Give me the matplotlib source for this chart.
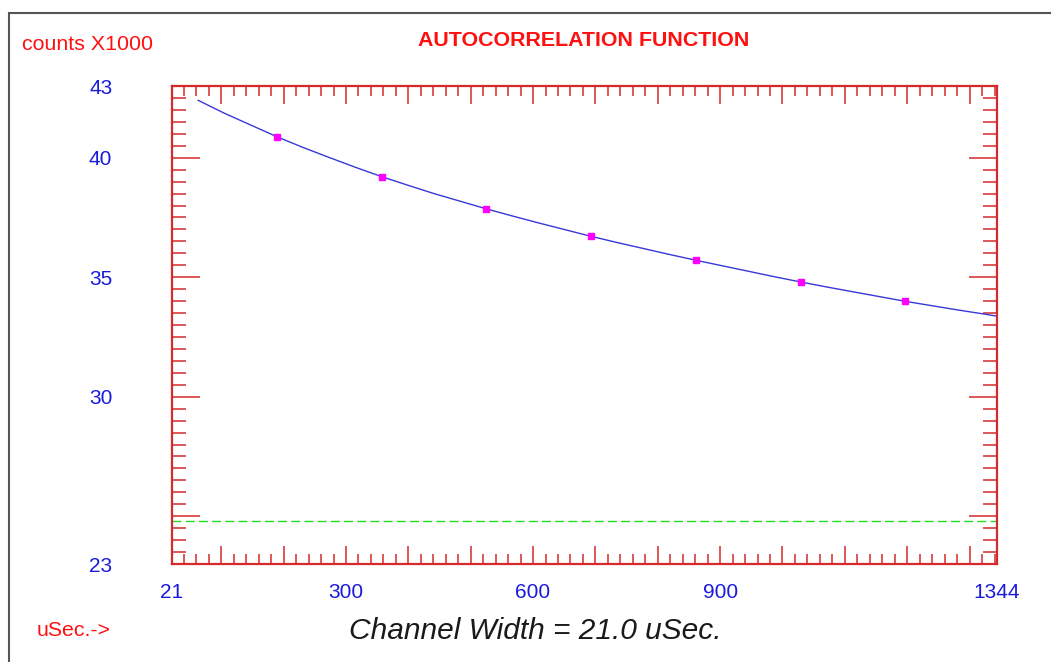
"""
Autocorrelation function plot: measured points + fitted curve + baseline.
"""

import matplotlib
matplotlib.use("Agg")
import matplotlib.pyplot as plt
from matplotlib.patches import Rectangle
from matplotlib.ticker import MultipleLocator

plt.rcParams["font.family"] = ["Liberation Sans", "DejaVu Sans"]

# ---------------------------------------------------------------------------
# Data, delay in uSec, counts in thousands
# ---------------------------------------------------------------------------
fit_delay = [63, 105, 147, 189, 231, 273, 315, 357, 399, 441, 483, 525,
             567, 609, 651, 693, 735, 777, 819, 861, 903, 945, 987, 1029,
             1071, 1113, 1155, 1197, 1239, 1281, 1323, 1344]
fit_counts = [42.40, 41.86, 41.37, 40.88, 40.43, 40.01, 39.60, 39.21,
              38.85, 38.50, 38.18, 37.86, 37.56, 37.27, 36.99, 36.71,
              36.45, 36.20, 35.95, 35.71, 35.48, 35.25, 35.02, 34.80,
              34.59, 34.39, 34.19, 33.99, 33.81, 33.63, 33.46, 33.37]

point_delay = [189, 357, 525, 693, 861, 1029, 1197]
point_counts = [40.88, 39.21, 37.86, 36.71, 35.71, 34.80, 33.99]

baseline = 24.8

x_min, x_max = 21, 1344
y_min, y_max = 23, 43
x_major = [21] + list(range(100, 1400, 100)) + [1344]
x_labels = ["21" if v == 21 else "1344" if v == 1344 else
            (str(v) if v in (300, 600, 900) else "") for v in x_major]
y_major = [23, 25, 30, 35, 40, 43]
y_labels = ["23", "", "30", "35", "40", "43"]

# ---------------------------------------------------------------------------
# Styling
# ---------------------------------------------------------------------------
RED = "#d42a2a"
TXT_RED = "#ff1010"
BLUE = "#1a1adc"

W, H = 1051, 662
fig = plt.figure(figsize=(W / 100, H / 100), dpi=100)
ax = fig.add_axes([172 / W, 1 - 564 / H, (997 - 172) / W, (564 - 86) / H])

ax.axhline(baseline, color="#22dd22", lw=1.0, dashes=(6.5, 3.0))
ax.plot(fit_delay, fit_counts, color="#3838d8", lw=1.0)
ax.plot(point_delay, point_counts, ls="none", marker="s", ms=5,
        color="#ff00ff", mec="#ff00ff")

ax.set_xlim(x_min, x_max)
ax.set_ylim(y_min, y_max)

for sp in ax.spines.values():
    sp.set_color(RED)
    sp.set_linewidth(1.6)

ax.set_xticks(x_major)
ax.set_xticklabels(x_labels)
ax.xaxis.set_minor_locator(MultipleLocator(20))
ax.set_yticks(y_major)
ax.set_yticklabels(y_labels)
ax.yaxis.set_minor_locator(MultipleLocator(0.5))

ax.tick_params(axis="x", which="major", direction="in", length=13, width=1.1,
               color=RED, top=True, labelcolor=BLUE, labelsize=15, pad=14)
ax.tick_params(axis="x", which="minor", direction="in", length=7, width=1.1,
               color=RED, top=True)
ax.tick_params(axis="y", which="major", direction="in", length=20, width=1.1,
               color=RED, right=True, labelcolor=BLUE, labelsize=15, pad=43)
ax.tick_params(axis="y", which="minor", direction="in", length=10, width=1.1,
               color=RED, right=True)

# outer frame (top and left edges visible)
fig.add_artist(Rectangle((9 / W, -0.2), 1.5, 1 - 13 / H + 0.2,
                         transform=fig.transFigure, fill=False,
                         edgecolor="#555555", lw=1.5))

fig.text(22 / W, 1 - 44 / H, "counts X1000", color=TXT_RED, fontsize=15.4,
         ha="left", va="center")
fig.text(584 / W, 1 - 40 / H, "AUTOCORRELATION FUNCTION", color=TXT_RED,
         fontsize=15.4, fontweight="bold", ha="center", va="center")
fig.text(37 / W, 1 - 630 / H, "uSec.->", color=TXT_RED, fontsize=15.3,
         ha="left", va="center")
fig.text(535 / W, 1 - 631 / H, "Channel Width = 21.0 uSec.", color="#1a1a1a",
         fontsize=21.5, fontstyle="italic", ha="center", va="center")

fig.savefig("out.png", dpi=100)
